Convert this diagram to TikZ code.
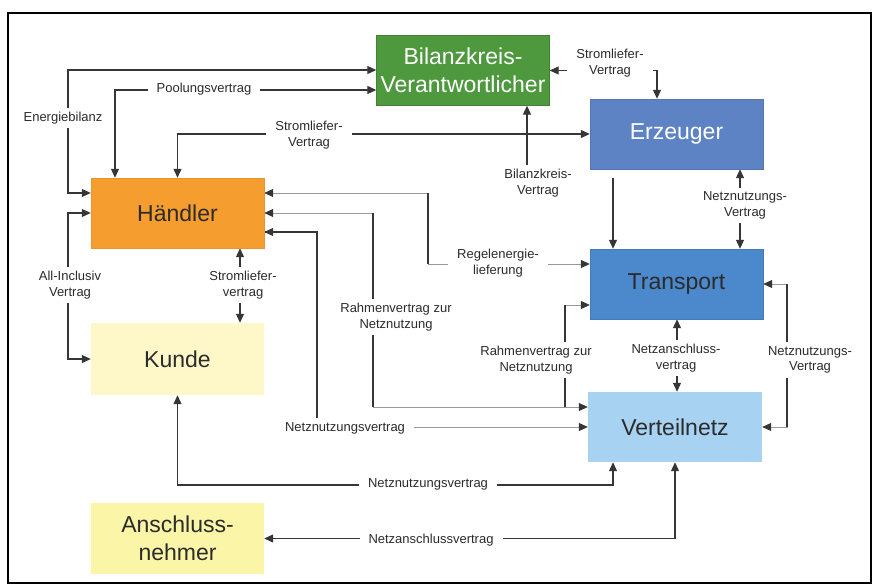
\documentclass[tikz,border=0pt]{standalone}
\usepackage{fontspec}
\setmainfont{Liberation Sans}
\usetikzlibrary{arrows.meta}
\pgfdeclarelayer{back}
\pgfdeclarelayer{bg}
\pgfsetlayers{back,bg,main}
\definecolor{bkvgreen}{HTML}{4E993E}
\definecolor{erzblue}{HTML}{5E83C4}
\definecolor{trablue}{HTML}{4C88CC}
\definecolor{verblue}{HTML}{A8D2F2}
\definecolor{haeorange}{HTML}{F59D2E}
\definecolor{kunyellow}{HTML}{FEF8C8}
\definecolor{ansyellow}{HTML}{FBF5A8}
\definecolor{linedark}{HTML}{363636}
\definecolor{linefaint}{HTML}{999999}
\definecolor{textdark}{HTML}{2B2B2B}
\tikzset{
  >={Triangle[length=9pt,width=8pt,color=linedark]},
  box/.style={rectangle, minimum width=173pt, minimum height=70pt, inner sep=0pt,
    align=center, font=\fontsize{23}{28}\selectfont, text=textdark},
  lbl/.style={fill=white, inner xsep=9pt, inner ysep=4pt, align=center,
    text=textdark, font=\fontsize{13}{15.5}\selectfont},
  conn/.style={draw=linedark, line width=1.1pt},
  faint/.style={draw=linefaint, line width=0.8pt}
}
\begin{document}
\begin{tikzpicture}[x=1pt,y=-1pt]
\useasboundingbox (0,0) rectangle (874,585);
\begin{pgfonlayer}{back}
\fill[white] (0,0) rectangle (874,585);
\draw[line width=2.2pt] (8,13) rectangle (871,583);
\end{pgfonlayer}

% boxes
\node[box, fill=bkvgreen, draw=bkvgreen!85!black, text=white] (BKV) at (463,70.5) {Bilanzkreis-\\Verantwortlicher};
\node[box, fill=erzblue, draw=erzblue!90!black, text=white] (Erz) at (676.5,134) {Erzeuger};
\node[box, fill=haeorange, draw=haeorange!95!black] (Hae) at (177.5,213) {Händler};
\node[box, fill=trablue, draw=trablue!90!black] (Tra) at (676.5,284) {Transport};
\node[box, fill=kunyellow, minimum height=72pt] (Kun) at (177.5,359) {Kunde};
\node[box, fill=verblue, minimum width=174pt] (Ver) at (675,427) {Verteilnetz};
\node[box, fill=ansyellow, minimum height=71pt] (Ans) at (177.5,538.5) {Anschluss-\\nehmer};

% labels
\node[lbl] (lEB) at (63,118) {Energiebilanz};
\node[lbl] (lPV) at (204,89) {Poolungsvertrag};
\node[lbl] (lSV1) at (309,135) {Stromliefer-\\Vertrag};
\node[lbl] (lSV2) at (610,63) {Stromliefer-\\Vertrag};
\node[lbl] (bkvL) at (538,183) {Bilanzkreis-\\Vertrag};
\node[lbl] (nnv1) at (745,205.5) {Netznutzungs-\\Vertrag};
\node[lbl] (lRE) at (498,263) {Regelenergie-\\lieferung};
\node[lbl] (lRV1) at (396,317) {Rahmenvertrag zur\\Netznutzung};
\node[lbl] (lRV2) at (536,360) {Rahmenvertrag zur\\Netznutzung};
\node[lbl] (nav) at (676,358) {Netzanschluss-\\vertrag};
\node[lbl] (lNR) at (810,360) {Netznutzungs-\\Vertrag};
\node[lbl] (lAI) at (70,285) {All-Inclusiv\\Vertrag};
\node[lbl] (slv) at (243,285) {Stromliefer-\\vertrag};
\node[lbl] (lNV1) at (345,428) {Netznutzungsvertrag};
\node[lbl] (lNV2) at (428,484) {Netznutzungsvertrag};
\node[lbl] (lNA) at (431,540) {Netzanschlussvertrag};

% coordinates
\coordinate (eb) at (68,70);
\coordinate (ai) at (68,359);
\coordinate (re) at (428,264);
\coordinate (rv) at (373,407);
\coordinate (nv) at (317,427);
\coordinate (rv2) at (565,407);
\coordinate (nr) at (787,427);
\coordinate (kv) at (613,485);
\coordinate (hW1) at ([yshift=20pt]Hae.west);
\coordinate (hE1) at ([yshift=20pt]Hae.east);
\coordinate (hE3) at ([yshift=-19pt]Hae.east);
\coordinate (tW1) at ([yshift=20pt]Tra.west);
\coordinate (tW2) at ([yshift=-21pt]Tra.west);
\coordinate (vW1) at ([yshift=20pt]Ver.west);

\begin{pgfonlayer}{bg}
% Energiebilanz
\draw[conn,<->] (hW1) -| (eb) -- (eb -| BKV.west);
% All-Inclusiv Vertrag
\draw[conn,<->] (Hae.west) -| (ai) -- (Kun.west);
% Poolungsvertrag
\draw[conn,<->] ([xshift=-62.5pt]Hae.north) |- ([yshift=-19.5pt]BKV.west);
% Stromliefer-Vertrag Haendler - Erzeuger
\draw[conn,<->] (Hae.north) |- (Erz.west);
% Stromliefer-Vertrag BKV - Erzeuger
\draw[conn,<->] (BKV.east) -| ([xshift=-19.5pt]Erz.north);
% Bilanzkreis-Vertrag
\draw[conn,->] ([xshift=-11pt]bkvL.north) -- ([xshift=-11pt]bkvL.north |- BKV.south);
% Erzeuger -> Transport
\draw[conn,->] ([xshift=-63.5pt,yshift=-9pt]Erz.south) -- ([xshift=-63.5pt]Tra.north);
% Netznutzungs-Vertrag Erzeuger - Transport
\draw[conn,->] ([xshift=-5pt]nnv1.north) -- ([xshift=-5pt]nnv1.north |- Erz.south);
\draw[conn,->] ([xshift=-5pt]nnv1.south) -- ([xshift=-5pt]nnv1.south |- Tra.north);
% Regelenergielieferung
\draw[faint,<->] (hE1) -| (re) -- (tW1);
\draw[conn] (re) -- (re |- hE1);
% Rahmenvertrag Haendler - Verteilnetz
\draw[faint,<->] (Hae.east) -| (rv) -- (vW1);
\draw[conn] (rv) -- (rv |- Hae.east);
% Netznutzungsvertrag Haendler - Verteilnetz
\draw[faint,<->] (hE3) -| (nv) -- (Ver.west);
\draw[conn] (hE3) -| (nv);
% Rahmenvertrag Transport - Verteilnetz
\draw[faint,<-] (tW2) -| (rv2);
\draw[conn] (rv2) -- (rv2 |- tW2);
% Netzanschluss-vertrag Transport - Verteilnetz
\draw[conn,->] ([xshift=1pt]nav.north) -- ([xshift=1pt]nav.north |- Tra.south);
\draw[conn,->] ([xshift=1pt]nav.south) -- ([xshift=1pt]nav.south |- Ver.north);
% Netznutzungs-Vertrag right
\draw[faint,<->] (Tra.east) -| (nr) -- (Ver.east);
\draw[conn] (nr) -- (nr |- Tra.east);
% Netznutzungsvertrag Kunde - Verteilnetz
\draw[conn,<->] (Kun.south) |- (kv) -- ([xshift=-62pt]Ver.south);
% Netzanschlussvertrag Anschlussnehmer - Verteilnetz
\draw[conn,<->] (Ans.east) -| (Ver.south);
% Stromliefervertrag Haendler - Kunde
\draw[conn,->] ([xshift=-3pt]slv.north) -- ([xshift=-3pt]slv.north |- Hae.south);
\draw[conn,->] ([xshift=-3pt]slv.south) -- ([xshift=-3pt]slv.south |- Kun.north);
\end{pgfonlayer}
\end{tikzpicture}
\end{document}
